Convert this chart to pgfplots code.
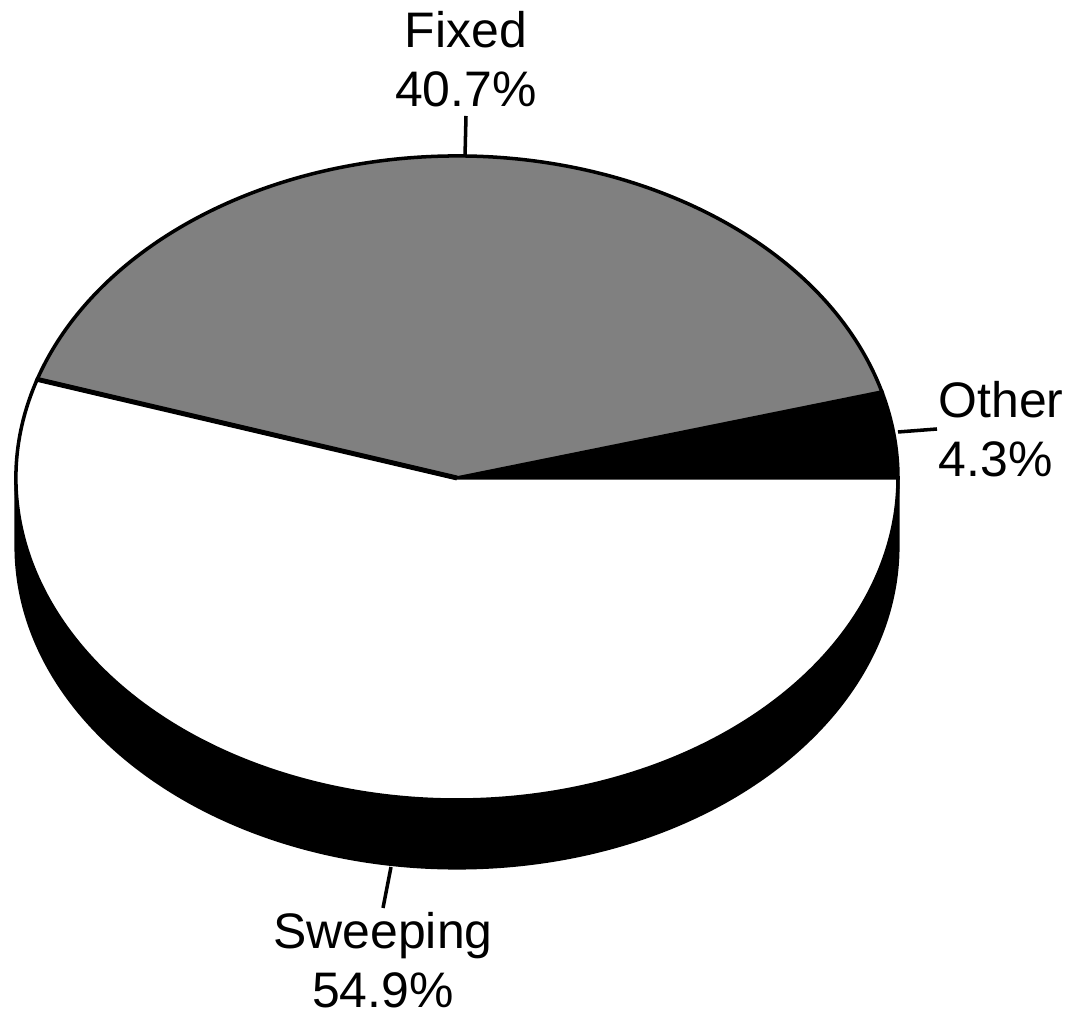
\documentclass[border=0pt]{standalone}
\usepackage{pgfplots}
\usepackage{pgfplotstable}
\pgfplotsset{compat=1.18}
\usepackage{fontspec}
\setmainfont{Liberation Sans}

% Share of each slice, in per cent, counter-clockwise from the right
\pgfplotstableread{
label    pct
Other    4.3
Fixed    40.7
Sweeping 54.9
}\slices

\pgfplotstablegetelem{0}{pct}\of\slices \let\pOther\pgfplotsretval
\pgfplotstablegetelem{1}{pct}\of\slices \let\pFixed\pgfplotsretval
\pgfplotstablegetelem{2}{pct}\of\slices \let\pSweep\pgfplotsretval

\pgfmathsetmacro{\total}{\pOther+\pFixed+\pSweep}
\pgfmathsetmacro{\aA}{360*\pOther/\total}
\pgfmathsetmacro{\aB}{360*(\pOther+\pFixed)/\total}

% pie geometry (axis units; 1 unit = 0.1 mm)
\def\cx{457}\def\cy{537}
\def\rx{44.1mm}\def\ry{32.2mm}\def\depth{68}

\colorlet{fixedgray}{black!50}
\tikzset{lbl/.style={font=\fontsize{14.2}{16.8}\selectfont}}

\begin{document}
\begin{tikzpicture}
\begin{axis}[
  x=0.1mm, y=0.1mm,
  xmin=0, xmax=1069, ymin=0, ymax=1015,
  hide axis, clip=false,
]
\coordinate (bbA) at (axis cs:0,0);
\coordinate (bbB) at (axis cs:1069,1015);

% side wall of the disc (front half)
\fill[black, draw=black, line width=0.9pt]
  (axis cs:\cx,\cy) ++(180:{\rx} and {\ry})
  arc[start angle=180, end angle=360, x radius=\rx, y radius=\ry]
  -- ++(axis direction cs:0,-\depth)
  arc[start angle=360, end angle=180, x radius=\rx, y radius=\ry]
  -- cycle;

% top face slices
\filldraw[fill=black, draw=black, line width=1pt]
  (axis cs:\cx,\cy) -- ++(0:{\rx} and {\ry})
  arc[start angle=0, end angle=\aA, x radius=\rx, y radius=\ry] -- cycle;
\filldraw[fill=fixedgray, draw=black, line width=1pt]
  (axis cs:\cx,\cy) -- ++(\aA:{\rx} and {\ry})
  arc[start angle=\aA, end angle=\aB, x radius=\rx, y radius=\ry] -- cycle;
\filldraw[fill=white, draw=black, line width=1pt]
  (axis cs:\cx,\cy) -- ++(\aB:{\rx} and {\ry})
  arc[start angle=\aB, end angle=360, x radius=\rx, y radius=\ry] -- cycle;
\draw[black, line width=1.4pt]
  (axis cs:\cx,\cy) -- ++(\aB:{\rx} and {\ry});

% leader lines
\draw[line width=1pt] (axis cs:466,899) -- (axis cs:465,858);
\draw[line width=1pt] (axis cs:898,583) -- (axis cs:937,586);
\draw[line width=1pt] (axis cs:391,148) -- (axis cs:383,107);

% labels (anchored at the baseline of their last line)
\node[lbl, align=center, anchor=base] at (axis cs:466,908) {Fixed\\40.7\%};
\node[lbl, align=left, anchor=base west, inner sep=0pt] at (axis cs:938,538) {Other\\4.3\%};
\node[lbl, align=center, anchor=base, inner sep=0pt] at (axis cs:383,7) {Sweeping\\54.9\%};
\end{axis}
\pgfresetboundingbox
\path (bbA) rectangle (bbB);
\end{tikzpicture}
\end{document}
